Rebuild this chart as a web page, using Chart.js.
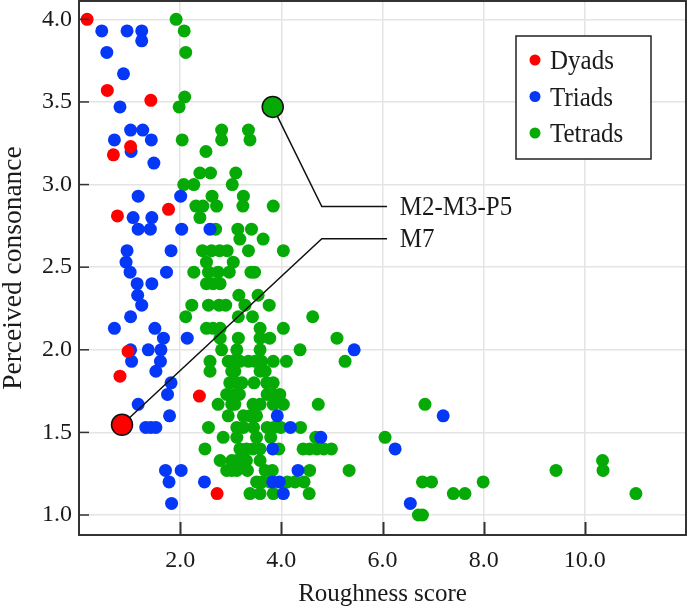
<!DOCTYPE html>
<html><head><meta charset="utf-8">
<script src="https://cdn.jsdelivr.net/npm/chart.js@4/dist/chart.umd.min.js"></script>
<style>html,body{margin:0;padding:0;background:#fff}</style>
</head><body>
<canvas id="c" width="687" height="609"></canvas>
<script>
const xTicks = [2, 4, 6, 8, 10];
const yTicks = [1.0, 1.5, 2.0, 2.5, 3.0, 3.5, 4.0];
const seriesNames = ['Dyads', 'Triads', 'Tetrads'];
const seriesColors = ['#ff0000', '#0537f7', '#06aa06'];

const dyadX = [0.16, 0.56, 1.42, 1.02, 0.68, 0.76, 1.77, 0.97, 0.81, 2.38, 2.73];
const dyadY = [4.00, 3.57, 3.51, 3.23, 3.18, 2.81, 2.85, 1.99, 1.84, 1.72, 1.13];

const triadX = [
  0.45, 0.95, 1.24, 1.24, 0.55, 0.88, 0.81, 1.02, 1.26, 0.70,
  1.43, 1.03, 1.48, 1.17, 2.01, 1.07, 1.44, 1.17, 1.41, 2.03,
  2.59, 0.95, 0.93, 1.82, 1.01, 1.73, 1.15, 1.44, 1.16, 1.24,
  1.02, 0.70, 1.50, 1.67, 2.14, 1.02, 1.37, 1.62, 1.04, 1.61,
  1.52, 1.82, 1.75, 1.17, 1.79, 1.32, 1.42, 1.52, 1.71, 2.02,
  1.78, 2.48, 1.83, 5.44, 7.20, 3.92, 4.18, 4.78, 3.83, 6.25,
  4.33, 3.83, 3.96, 4.04, 6.55
];
const triadY = [
  3.93, 3.93, 3.93, 3.87, 3.80, 3.67, 3.47, 3.33, 3.33, 3.27,
  3.27, 3.20, 3.13, 2.93, 2.93, 2.80, 2.80, 2.73, 2.73, 2.73,
  2.73, 2.60, 2.53, 2.60, 2.47, 2.47, 2.40, 2.40, 2.33, 2.27,
  2.20, 2.13, 2.13, 2.07, 2.07, 2.00, 2.00, 2.00, 1.93, 1.93,
  1.87, 1.80, 1.73, 1.67, 1.60, 1.53, 1.53, 1.53, 1.27, 1.27,
  1.20, 1.20, 1.07, 2.00, 1.60, 1.60, 1.53, 1.47, 1.40, 1.40,
  1.27, 1.20, 1.20, 1.13, 1.07
];

const tetradX = [
  1.92, 2.08, 2.11, 2.09, 1.98,
  2.82, 3.35,
  2.04, 2.82, 3.38,
  2.51,
  2.39, 2.60, 3.10,
  2.07, 2.27, 3.03,
  2.63, 3.25,
  2.31, 2.45, 2.72, 3.24, 3.84,
  2.39,
  2.70, 3.14, 3.41,
  3.18, 3.64,
  2.44, 2.62, 2.78, 2.93, 3.35, 4.04,
  2.52, 3.05,
  2.27, 2.56, 2.75, 2.97, 3.40, 3.47,
  2.52, 2.65, 2.79,
  3.16, 3.54,
  2.23, 2.56, 2.77, 2.90, 3.28, 3.76,
  2.11, 3.15, 3.43, 4.62,
  2.52, 2.65, 2.79, 3.58, 4.04,
  2.79, 3.15, 3.58, 3.77, 5.10,
  2.82, 3.12, 3.58, 4.37,
  2.59, 2.95, 3.05, 3.18, 3.35, 3.48, 3.61, 3.84, 4.10, 5.26,
  2.59, 3.02, 3.08, 3.58, 3.68,
  2.98, 3.12, 3.22, 3.46, 3.71, 3.84,
  2.92, 3.08, 3.17, 3.72, 3.84, 3.97,
  2.75, 3.02, 3.08, 3.44, 3.58, 3.84, 4.04, 4.73, 6.84,
  2.95, 3.25, 3.38, 3.51,
  2.56, 3.12, 3.25, 3.45, 3.72, 3.85, 3.99, 4.38,
  2.85, 3.12, 3.51, 3.79, 4.68, 6.05,
  2.49, 3.18, 3.31, 3.44, 3.58, 3.95, 4.43, 4.56, 4.70, 4.84, 4.99,
  2.79, 3.02, 3.12, 3.22, 3.31, 3.58, 10.35,
  2.92, 3.02, 3.12, 3.33, 3.68, 3.82, 4.56, 5.34, 9.43, 10.36,
  3.51, 3.62, 3.77, 4.12, 4.27, 4.45, 6.79, 6.97, 7.99,
  3.38, 3.58, 3.84, 4.55, 7.40, 7.63, 11.01,
  6.71, 6.79
];
const tetradY = [
  4.00, 3.93, 3.80, 3.53, 3.47,
  3.33, 3.33,
  3.27, 3.27, 3.27,
  3.20,
  3.07, 3.07, 3.07,
  3.00, 3.00, 3.00,
  2.93, 2.93,
  2.87, 2.87, 2.87, 2.87, 2.87,
  2.80,
  2.73, 2.73, 2.73,
  2.67, 2.67,
  2.60, 2.60, 2.60, 2.60, 2.60, 2.60,
  2.53, 2.53,
  2.47, 2.47, 2.47, 2.47, 2.47, 2.47,
  2.40, 2.40, 2.40,
  2.33, 2.33,
  2.27, 2.27, 2.27, 2.27, 2.27, 2.27,
  2.20, 2.20, 2.20, 2.20,
  2.13, 2.13, 2.13, 2.13, 2.13,
  2.07, 2.07, 2.07, 2.07, 2.07,
  2.00, 2.00, 2.00, 2.00,
  1.93, 1.93, 1.93, 1.93, 1.93, 1.93, 1.93, 1.93, 1.93, 1.93,
  1.87, 1.87, 1.87, 1.87, 1.87,
  1.80, 1.80, 1.80, 1.80, 1.80, 1.80,
  1.73, 1.73, 1.73, 1.73, 1.73, 1.73,
  1.67, 1.67, 1.67, 1.67, 1.67, 1.67, 1.67, 1.67, 1.67,
  1.60, 1.60, 1.60, 1.60,
  1.53, 1.53, 1.53, 1.53, 1.53, 1.53, 1.53, 1.53,
  1.47, 1.47, 1.47, 1.47, 1.47, 1.47,
  1.40, 1.40, 1.40, 1.40, 1.40, 1.40, 1.40, 1.40, 1.40, 1.40, 1.40,
  1.33, 1.33, 1.33, 1.33, 1.33, 1.33, 1.33,
  1.27, 1.27, 1.27, 1.27, 1.27, 1.27, 1.27, 1.27, 1.27, 1.27,
  1.20, 1.20, 1.20, 1.20, 1.20, 1.20, 1.20, 1.20, 1.20,
  1.13, 1.13, 1.13, 1.13, 1.13, 1.13, 1.13,
  1.00, 1.00
];

// highlighted chords and their call-outs
const highlightNames = ['M2-M3-P5', 'M7'];
const highlightX = [3.83, 0.85];
const highlightY = [3.47, 1.546];
const highlightColors = ['#06aa06', '#ff0000'];
const leaderM2X = [3.83, 4.80, 6.09];
const leaderM2Y = [3.47, 2.867, 2.867];
const leaderM7X = [0.85, 4.80, 6.09];
const leaderM7Y = [1.546, 2.672, 2.672];
const calloutX = [6.34, 6.34];
const calloutY = [2.867, 2.672];

const FAM = '"Liberation Serif", "Times New Roman", serif';
const pts = (xs, ys) => xs.map((x, i) => ({x: x, y: ys[i]}));

// text drawn slightly taller than wide, as in the reference figure
function tallText(ctx, txt, px, py) {
  ctx.save();
  ctx.translate(px, py);
  ctx.scale(1, 1.1);
  ctx.fillText(txt, 0, 0);
  ctx.restore();
}

const decorPlugin = {
  id: 'decor',
  afterDraw(chart) {
    const {ctx, chartArea: a, scales: {x, y}} = chart;
    ctx.save();
    ctx.strokeStyle = '#333';
    ctx.lineWidth = 2;
    xTicks.forEach(v => {
      const px = Math.round(x.getPixelForValue(v)) + 0.5;
      ctx.beginPath(); ctx.moveTo(px, a.bottom); ctx.lineTo(px, a.bottom - 13); ctx.stroke();
    });
    ctx.lineWidth = 1.5;
    yTicks.forEach(v => {
      const py = y.getPixelForValue(v);
      ctx.beginPath(); ctx.moveTo(a.left, py); ctx.lineTo(a.left + 10, py); ctx.stroke();
    });
    ctx.lineWidth = 2;
    ctx.strokeRect(a.left, a.top, a.right - a.left, a.bottom - a.top);

    // callout labels
    ctx.fillStyle = '#1a1a1a';
    ctx.font = '25px ' + FAM;
    ctx.textBaseline = 'middle';
    ctx.textAlign = 'left';
    highlightNames.forEach((n, i) => {
      tallText(ctx, n, x.getPixelForValue(calloutX[i]), y.getPixelForValue(calloutY[i]) + 1);
    });

    // legend
    const lx = a.right - 170, ly = a.top + 35, lw = 135, lh = 123;
    ctx.fillStyle = '#fff';
    ctx.fillRect(lx, ly, lw, lh);
    ctx.strokeStyle = '#222';
    ctx.lineWidth = 1.5;
    ctx.strokeRect(lx, ly, lw, lh);
    seriesNames.forEach((n, i) => {
      const cy = ly + 24 + i * 36.5;
      ctx.fillStyle = seriesColors[i];
      ctx.beginPath(); ctx.arc(lx + 19, cy, 5.5, 0, Math.PI * 2); ctx.fill();
      ctx.fillStyle = '#1a1a1a';
      ctx.font = '25px ' + FAM;
      ctx.textBaseline = 'middle';
      tallText(ctx, n, lx + 34, cy + 2);
    });
    ctx.restore();
  }
};

const baseSet = (label, xs, ys, color, order) => ({
  label: label, data: pts(xs, ys), backgroundColor: color, borderWidth: 0,
  pointRadius: 6.5, pointHoverRadius: 6.5, order: order
});

const zeroPad = s => { s.paddingTop = 0; s.paddingBottom = 0; s.paddingLeft = 0; s.paddingRight = 0; };

new Chart(document.getElementById('c'), {
  type: 'scatter',
  data: {
    datasets: [
      {label: 'M2-M3-P5 point', data: pts([highlightX[0]], [highlightY[0]]), backgroundColor: highlightColors[0],
       borderColor: '#111', borderWidth: 1.5, pointRadius: 10.5, order: 0},
      {label: 'M7 point', data: pts([highlightX[1]], [highlightY[1]]), backgroundColor: highlightColors[1],
       borderColor: '#111', borderWidth: 1.5, pointRadius: 10.5, order: 0},
      {label: 'M2 leader', type: 'line', data: pts(leaderM2X, leaderM2Y), borderColor: '#111', borderWidth: 1.5,
       pointRadius: 0, fill: false, tension: 0, order: 1},
      {label: 'M7 leader', type: 'line', data: pts(leaderM7X, leaderM7Y), borderColor: '#111', borderWidth: 1.5,
       pointRadius: 0, fill: false, tension: 0, order: 1},
      baseSet(seriesNames[0], dyadX, dyadY, seriesColors[0], 2),
      baseSet(seriesNames[1], triadX, triadY, seriesColors[1], 3),
      baseSet(seriesNames[2], tetradX, tetradY, seriesColors[2], 4)
    ]
  },
  options: {
    responsive: false,
    animation: false,
    devicePixelRatio: 1,
    layout: {autoPadding: false, padding: {top: 1, right: 1, left: 0, bottom: 0}},
    plugins: {legend: {display: false}, tooltip: {enabled: false}},
    scales: {
      x: {
        type: 'linear', min: 0, max: 12,
        afterBuildTicks: s => { s.ticks = xTicks.map(v => ({value: v})); },
        afterFit: s => { s.height = 74; zeroPad(s); },
        grid: {color: '#e4e4e4', lineWidth: 1.5, drawTicks: false},
        border: {display: false},
        ticks: {color: '#1a1a1a', font: {family: FAM, size: 24}, padding: 11, callback: v => Number(v).toFixed(1)},
        title: {display: true, text: 'Roughness score', color: '#1a1a1a', font: {family: FAM, size: 25}, padding: 0}
      },
      y: {
        type: 'linear', min: 0.879, max: 4.111,
        afterBuildTicks: s => { s.ticks = yTicks.map(v => ({value: v})); },
        afterFit: s => { s.width = 79; zeroPad(s); },
        grid: {color: '#e4e4e4', lineWidth: 1.5, drawTicks: false},
        border: {display: false},
        ticks: {color: '#1a1a1a', font: {family: FAM, size: 24}, padding: 7, callback: v => Number(v).toFixed(1)},
        title: {display: true, text: 'Perceived consonance', color: '#1a1a1a', font: {family: FAM, size: 27.5, lineHeight: 1.0}, padding: 0}
      }
    }
  },
  plugins: [decorPlugin]
});
</script>
</body></html>
